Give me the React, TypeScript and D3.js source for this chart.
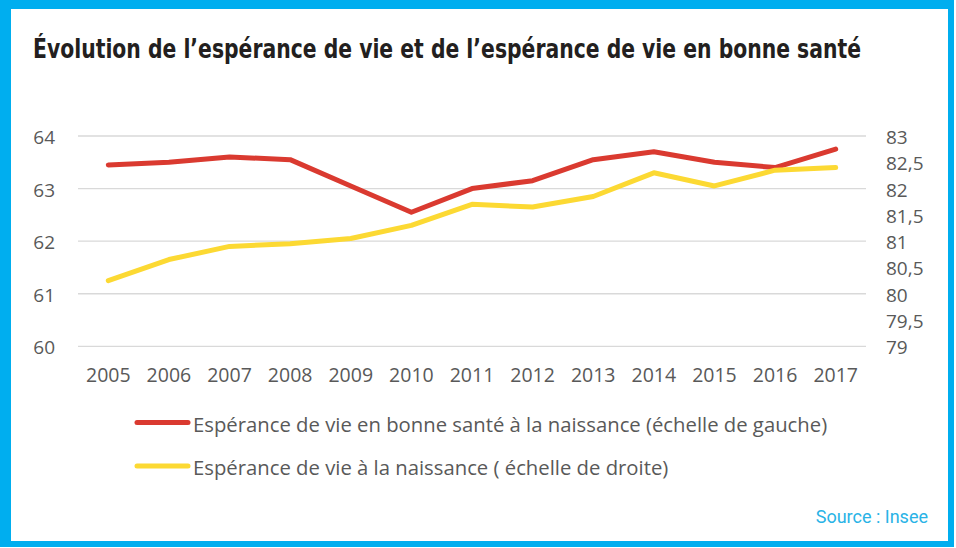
import { useEffect, useRef } from 'react';
import { scaleLinear, scalePoint, select, line } from 'd3';

const years = ['2005', '2006', '2007', '2008', '2009', '2010', '2011', '2012', '2013', '2014', '2015', '2016', '2017'];
// espérance de vie en bonne santé (échelle de gauche)
const healthyLife = [63.45, 63.5, 63.6, 63.55, 63.05, 62.55, 63.0, 63.15, 63.55, 63.7, 63.5, 63.4, 63.75];
// espérance de vie (échelle de droite)
const lifeExp = [80.25, 80.65, 80.9, 80.95, 81.05, 81.3, 81.7, 81.65, 81.85, 82.3, 82.05, 82.35, 82.4];
const leftTicks = [60, 61, 62, 63, 64];
const rightTicks = [79, 79.5, 80, 80.5, 81, 81.5, 82, 82.5, 83];
const legendLabels = [
  'Espérance de vie en bonne santé à la naissance (échelle de gauche)',
  'Espérance de vie à la naissance ( échelle de droite)',
];

export default function App() {
  const svgRef = useRef<SVGSVGElement>(null);

  useEffect(() => {
    const width = 956;
    const height = 548;
    const plot = { left: 78, right: 866, top: 136, bottom: 346.3 };
    const red = '#da3a30';
    const yellow = '#fcd933';
    const textColor = '#595959';

    const svg = select(svgRef.current);
    svg.selectAll('*').remove();
    svg.attr('width', width).attr('height', height);

    // cadre bleu
    svg.append('rect').attr('x', 0).attr('y', 0).attr('width', 954).attr('height', 547).attr('fill', '#00aeef');
    svg.append('rect').attr('x', 11).attr('y', 9).attr('width', 937).attr('height', 532).attr('fill', '#fff');

    svg
      .append('text')
      .attr('x', 33)
      .attr('y', 58)
      .attr('font-family', '"Liberation Sans Narrow", "DejaVu Sans Condensed", sans-serif')
      .attr('font-weight', 'bold')
      .attr('font-size', 26)
      .attr('fill', '#231f20')
      .attr('textLength', 828)
      .attr('lengthAdjust', 'spacingAndGlyphs')
      .text('Évolution de l’espérance de vie et de l’espérance de vie en bonne santé');

    const x = scalePoint<string>().domain(years).range([plot.left, plot.right]).padding(0.5);
    const yLeft = scaleLinear().domain([60, 64]).range([plot.bottom, plot.top]);
    const yRight = scaleLinear().domain([79, 83]).range([plot.bottom, plot.top]);

    // grille
    svg
      .selectAll('line.grid')
      .data(leftTicks)
      .enter()
      .append('line')
      .attr('class', 'grid')
      .attr('x1', plot.left)
      .attr('x2', plot.right)
      .attr('y1', (d) => yLeft(d))
      .attr('y2', (d) => yLeft(d))
      .attr('stroke', '#d9d9d9')
      .attr('stroke-width', 1.3);

    const font = '"Open Sans", sans-serif';

    svg
      .selectAll('text.yl')
      .data(leftTicks)
      .enter()
      .append('text')
      .attr('class', 'yl')
      .attr('x', 55)
      .attr('y', (d) => yLeft(d) + 8)
      .attr('text-anchor', 'end')
      .attr('font-family', font)
      .attr('font-size', 19)
      .attr('fill', textColor)
      .text((d) => String(d));

    svg
      .selectAll('text.yr')
      .data(rightTicks)
      .enter()
      .append('text')
      .attr('class', 'yr')
      .attr('x', 886)
      .attr('y', (d) => yRight(d) + 8)
      .attr('font-family', font)
      .attr('font-size', 19)
      .attr('fill', textColor)
      .text((d) => String(d).replace('.', ','));

    svg
      .selectAll('text.xl')
      .data(years)
      .enter()
      .append('text')
      .attr('class', 'xl')
      .attr('x', (d) => x(d)!)
      .attr('y', 382)
      .attr('text-anchor', 'middle')
      .attr('font-family', font)
      .attr('font-size', 19.5)
      .attr('fill', textColor)
      .text((d) => d);

    const leftLine = line<number>()
      .x((_, i) => x(years[i])!)
      .y((d) => yLeft(d));
    const rightLine = line<number>()
      .x((_, i) => x(years[i])!)
      .y((d) => yRight(d));

    svg
      .append('path')
      .attr('d', leftLine(healthyLife))
      .attr('fill', 'none')
      .attr('stroke', red)
      .attr('stroke-width', 5)
      .attr('stroke-linejoin', 'round')
      .attr('stroke-linecap', 'round');

    svg
      .append('path')
      .attr('d', rightLine(lifeExp))
      .attr('fill', 'none')
      .attr('stroke', yellow)
      .attr('stroke-width', 5)
      .attr('stroke-linejoin', 'round')
      .attr('stroke-linecap', 'round');

    // légende
    const legend = svg
      .selectAll('g.legend')
      .data(legendLabels)
      .enter()
      .append('g')
      .attr('class', 'legend')
      .attr('transform', (_, i) => `translate(0, ${422.5 + i * 43.5})`);

    legend
      .append('line')
      .attr('x1', 137)
      .attr('x2', 188)
      .attr('stroke', (_, i) => (i === 0 ? red : yellow))
      .attr('stroke-width', 5)
      .attr('stroke-linecap', 'round');

    legend
      .append('text')
      .attr('x', 193)
      .attr('y', 9)
      .attr('font-family', font)
      .attr('font-size', 20.3)
      .attr('fill', textColor)
      .text((d) => d);

    svg
      .append('text')
      .attr('x', 928)
      .attr('y', 523)
      .attr('text-anchor', 'end')
      .attr('font-family', 'Roboto, sans-serif')
      .attr('font-size', 18)
      .attr('fill', '#29b3e6')
      .text('Source : Insee');
  }, []);

  return (
    <div>
      <svg ref={svgRef} style={{ position: 'absolute', left: 0, top: 0 }}></svg>
    </div>
  );
}
